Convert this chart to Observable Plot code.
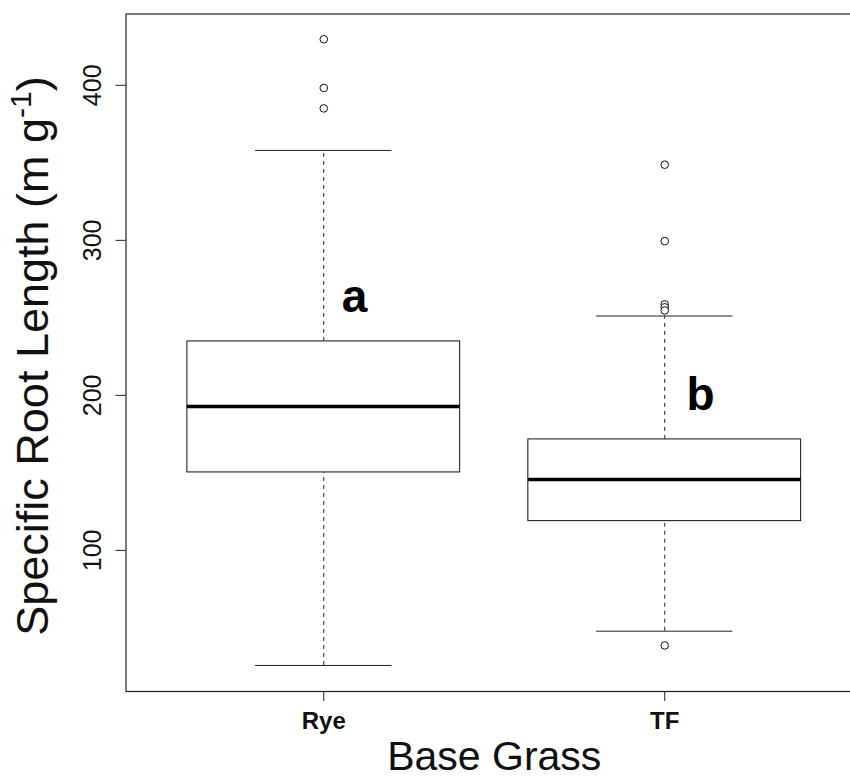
<!DOCTYPE html>
<html>
<head>
<meta charset="utf-8">
<script src="https://cdn.jsdelivr.net/npm/d3@7"></script>
<script src="https://cdn.jsdelivr.net/npm/@observablehq/plot@0.6"></script>
<style>
  html, body { margin: 0; padding: 0; background: #fff; }
  svg { font-family: "Liberation Sans", Arial, sans-serif; }
</style>
</head>
<body>
<div id="chart"></div>
<script>
// ---- data ----
const groups = ["Rye", "TF"];
const q1 = [150.3, 118.9];
const median = [192.9, 145.8];
const q3 = [234.8, 171.6];
const whiskerLow = [25.8, 47.9];
const whiskerHigh = [358.0, 251.2];
const outliersRye = [429.7, 398.3, 385.1];
const outliersTF = [348.8, 299.5, 258.7, 256.8, 254.8, 38.7];
const letters = ["a", "b"];
const letterX = [1.09, 2.105];
const letterY = [253.5, 190.3];
const yTicks = [100, 200, 300, 400];
const xTitle = "Base Grass";

// ---- build tables ----
const boxes = groups.map((g, i) => ({
  g, pos: i + 1, q1: q1[i], med: median[i], q3: q3[i], lo: whiskerLow[i], hi: whiskerHigh[i]
}));
const outliers = [
  ...outliersRye.map(v => ({pos: 1, v})),
  ...outliersTF.map(v => ({pos: 2, v}))
];
const letterData = letters.map((t, i) => ({t, x: letterX[i], y: letterY[i]}));

const boxHalf = 0.4, capHalf = 0.2;
const font = "'Liberation Sans', Arial, sans-serif";

const chart = Plot.plot({
  width: 850,
  height: 778,
  marginLeft: 125.5,
  marginRight: -12,
  marginTop: 13.5,
  marginBottom: 87,
  style: {fontFamily: font, background: "#fff"},
  x: {type: "linear", domain: [0.42, 2.58], axis: null},
  y: {domain: [9, 446], axis: null},
  marks: [
    Plot.ruleX(boxes, {x: "pos", y1: "q3", y2: "hi", stroke: "#222", strokeDasharray: "4,4"}),
    Plot.ruleX(boxes, {x: "pos", y1: "lo", y2: "q1", stroke: "#222", strokeDasharray: "4,4"}),
    Plot.ruleY(boxes, {y: "hi", x1: d => d.pos - capHalf, x2: d => d.pos + capHalf, stroke: "#222"}),
    Plot.ruleY(boxes, {y: "lo", x1: d => d.pos - capHalf, x2: d => d.pos + capHalf, stroke: "#222"}),
    Plot.rect(boxes, {x1: d => d.pos - boxHalf, x2: d => d.pos + boxHalf, y1: "q1", y2: "q3", fill: "white", stroke: "#111"}),
    Plot.ruleY(boxes, {y: "med", x1: d => d.pos - boxHalf, x2: d => d.pos + boxHalf, stroke: "#000", strokeWidth: 3.5}),
    Plot.dot(outliers, {x: "pos", y: "v", r: 3.8, stroke: "#111", fill: "white", strokeWidth: 1}),
    Plot.text(letterData, {x: "x", y: "y", text: "t", fontSize: 46, fontWeight: "bold", fill: "#000", textAnchor: "middle", lineAnchor: "bottom"}),
    Plot.axisY({ticks: yTicks, tickSize: 10, tickPadding: 15, tickRotate: -90, fontSize: 25, label: null, stroke: "#222", color: "#111"}),
    Plot.axisX({ticks: [1, 2], tickFormat: d => groups[d - 1], tickSize: 10, tickPadding: 10, fontSize: 24, fontWeight: "bold", label: null, stroke: "#222", color: "#111"}),
    Plot.text([xTitle], {frameAnchor: "bottom", text: d => d, dy: 78, fontSize: 41, fill: "#111", lineAnchor: "bottom"}),
    Plot.frame({stroke: "#222", strokeWidth: 1.2})
  ]
});

// y-axis title with a superscript, added as real text
const svg = d3.select(chart);
const t = svg.append("text")
  .attr("transform", "translate(48,356) rotate(-90)")
  .attr("text-anchor", "middle")
  .attr("font-size", 45)
  .attr("font-family", font)
  .attr("fill", "#111");
t.append("tspan").text("Specific Root Length (m g");
t.append("tspan").attr("font-size", 30).attr("dy", -17).text("-1");
t.append("tspan").attr("dy", 17).text(")");

document.getElementById("chart").appendChild(chart);
</script>
</body>
</html>
